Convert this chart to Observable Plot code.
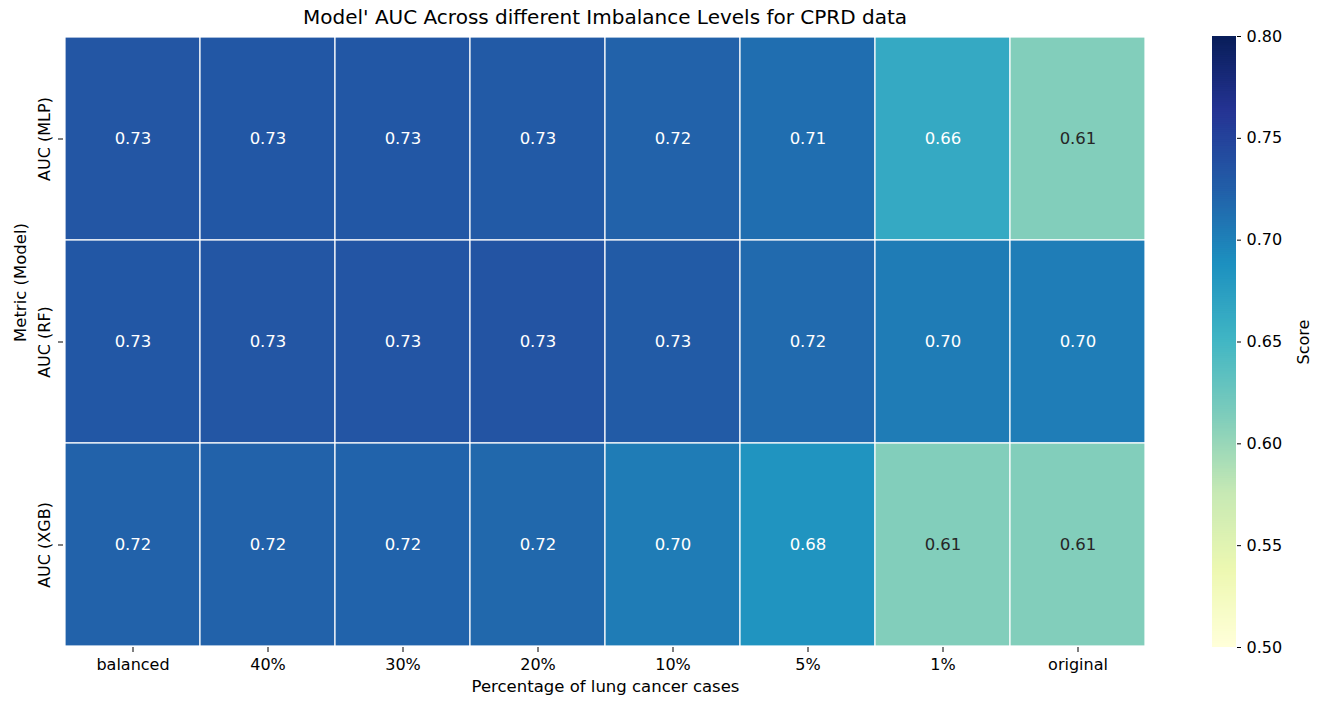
<!DOCTYPE html>
<html>
<head>
<meta charset="utf-8">
<script src="https://cdn.jsdelivr.net/npm/d3@7"></script>
<script src="https://cdn.jsdelivr.net/npm/@observablehq/plot@0.6"></script>
<style>
  body { margin: 0; background: #fff; font-family: "DejaVu Sans", sans-serif; }
  #wrap { position: relative; width: 1325px; height: 710px; }
  #wrap > * { position: absolute; }
  #title { left: 63px; width: 1084px; top: 5px; text-align: center; font-size: 20px; color: #000; }
</style>
</head>
<body>
<div id="wrap">
  <div id="title">Model' AUC Across different Imbalance Levels for CPRD data</div>
</div>
<script>
const levels = ["balanced", "40%", "30%", "20%", "10%", "5%", "1%", "original"];
const models = ["AUC (MLP)", "AUC (RF)", "AUC (XGB)"];
const aucMLP = [0.732, 0.731, 0.731, 0.729, 0.722, 0.713, 0.663, 0.611];
const aucRF  = [0.731, 0.732, 0.733, 0.734, 0.728, 0.716, 0.703, 0.702];
const aucXGB = [0.722, 0.722, 0.721, 0.718, 0.703, 0.684, 0.611, 0.611];
const colorTicks = [0.50, 0.55, 0.60, 0.65, 0.70, 0.75, 0.80];
const ylgnbu = ["#ffffd9","#edf8b1","#c7e9b4","#7fcdbb","#41b6c4","#1d91c0","#225ea8","#253494","#081d58"];

const series = [aucMLP, aucRF, aucXGB];
const data = [];
models.forEach((m, i) => levels.forEach((l, j) => data.push({model: m, level: l, value: series[i][j]})));

const colorScale = {
  type: "linear",
  domain: ylgnbu.map((_, i) => 0.5 + i * 0.3 / 8),
  range: ylgnbu,
  interpolate: "rgb",
  clamp: true
};

const font = "DejaVu Sans";
const main = Plot.plot({
  width: 1180,
  height: 710,
  marginLeft: 63,
  marginRight: 33,
  marginTop: 36,
  marginBottom: 63,
  style: {fontFamily: font, fontSize: "16px", color: "#000", background: "transparent"},
  x: {domain: levels, padding: 0, label: null},
  y: {domain: models, padding: 0, label: null},
  color: colorScale,
  marks: [
    Plot.cell(data, {x: "level", y: "model", fill: "value", inset: 0, stroke: "white", strokeWidth: 1.2}),
    Plot.text(data, {x: "level", y: "model", text: d => d.value.toFixed(2), fontSize: 16.5,
      fill: d => d.value < 0.64 ? "#262626" : "white"}),
    Plot.axisX({tickSize: 5, tickPadding: 6, fontSize: 16, label: null}),
    Plot.axisY({tickSize: 5, tickPadding: 9, fontSize: 16, tickRotate: -90, label: null}),
    Plot.text(["Percentage of lung cancer cases"], {frameAnchor: "bottom", dy: 44, fontSize: 16.5, text: d => d}),
    Plot.text(["Metric (Model)"], {frameAnchor: "left", dx: -43, rotate: -90, fontSize: 16.5, text: d => d})
  ]
});
main.style.left = "0px";
main.style.top = "0px";
main.style.overflow = "visible";
document.getElementById("wrap").appendChild(main);

const steps = d3.range(0.5, 0.8, 0.001);
const bar = Plot.plot({
  width: 145,
  height: 710,
  marginLeft: 32,
  marginRight: 89,
  marginTop: 36,
  marginBottom: 63,
  style: {fontFamily: font, fontSize: "16px", color: "#000", background: "transparent"},
  x: {domain: [0, 1], axis: null},
  y: {domain: [0.5, 0.8]},
  color: colorScale,
  marks: [
    Plot.rect(steps, {x1: 0, x2: 1, y1: d => d, y2: d => Math.min(0.8, d + 0.0015), fill: d => d}),
    Plot.axisY({anchor: "right", ticks: colorTicks, tickFormat: d3.format(".2f"), tickSize: 4, tickPadding: 6,
      fontSize: 16, label: "Score", labelAnchor: "center", labelArrow: "none", labelOffset: 72})
  ]
});
bar.style.left = "1180px";
bar.style.top = "0px";
bar.style.overflow = "visible";
document.getElementById("wrap").appendChild(bar);
</script>
</body>
</html>
